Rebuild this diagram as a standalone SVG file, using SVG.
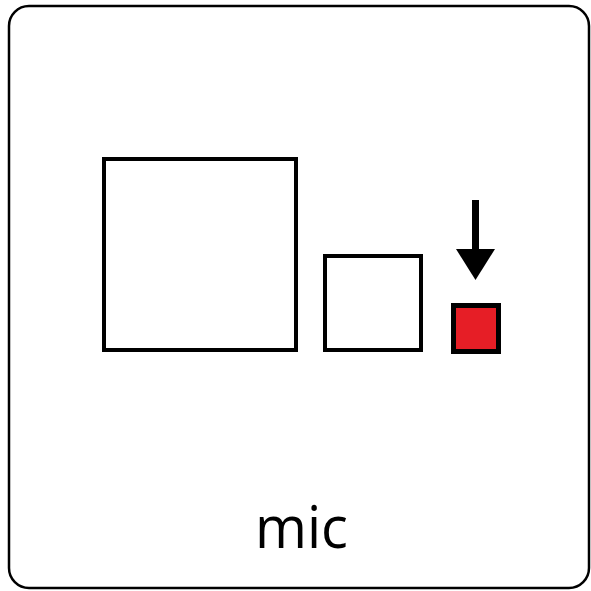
<svg xmlns="http://www.w3.org/2000/svg" width="591" height="591" viewBox="0 0 591 591">
<style>
.box{fill:none;stroke:#000;stroke-width:4}
.lbl{font-family:"Open Sans","Liberation Sans",sans-serif;font-size:58px;fill:#000}
</style>
<rect width="591" height="591" fill="#fff"/>
<g id="frame"><rect x="9" y="6" width="580" height="582" rx="20" fill="none" stroke="#000" stroke-width="2.5"/></g>
<g id="large"><rect class="box" x="104" y="159" width="192" height="191"/></g>
<g id="medium"><rect class="box" x="325" y="256" width="96" height="94"/></g>
<g id="small"><rect x="453.5" y="305.5" width="45" height="46" fill="#e61e26" stroke="#000" stroke-width="5"/></g>
<g id="connectors">
<rect x="472" y="200" width="7" height="52" fill="#000"/>
<polygon points="456,249 495,249 475.5,280" fill="#000"/>
</g>
<g id="label"><text class="lbl" x="301.5" y="548" text-anchor="middle" textLength="93" lengthAdjust="spacingAndGlyphs">mic</text></g>
</svg>
